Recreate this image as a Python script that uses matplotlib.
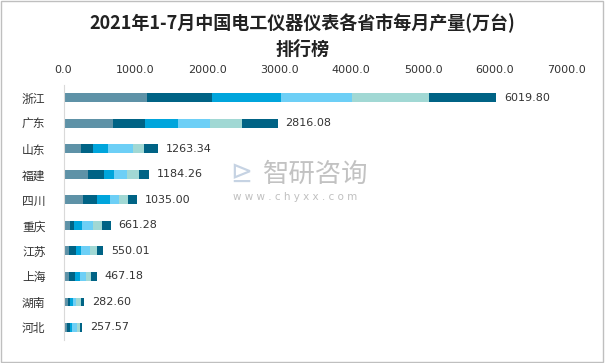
import matplotlib.pyplot as plt
from matplotlib.patches import Rectangle

plt.rcParams['font.family'] = ['Noto Sans CJK SC', 'DejaVu Sans']

# provinces, top to bottom
provinces = ['浙江', '广东', '山东', '福建', '四川', '重庆', '江苏', '上海', '湖南', '河北']
totals = [6019.80, 2816.08, 1263.34, 1184.26, 1035.00, 661.28, 550.01, 467.18, 282.60, 257.57]

# monthly segments
seg1 = [1156, 684, 243, 336, 267, 90, 76, 76, 58, 50]
seg2 = [903, 449, 163, 227, 199, 56, 97, 83, 32, 42]
seg3 = [963, 459, 217, 135, 176, 107, 69, 69, 38, 32]
seg4 = [996, 445, 343, 185, 125, 157, 121, 83, 52, 68]
seg5 = [1070, 445, 149, 163, 125, 125, 97, 69, 62, 36]
seg6 = [931, 496, 195, 139, 125, 121, 92, 79, 40, 30]
segments = [seg1, seg2, seg3, seg4, seg5, seg6]
colors = ['#5e92a7', '#006385', '#00a5dc', '#6dcff6', '#a1d8d4', '#006385']

fig = plt.figure(figsize=(6.05, 3.63), dpi=100)
ax = fig.add_axes([0.105, 0.063, 0.832, 0.703])

y = list(range(len(provinces)))
left = [0] * len(provinces)
for k, seg in enumerate(segments):
    ax.barh(y, seg, left=left, height=0.34, color=colors[k], linewidth=0)
    left = [a + b for a, b in zip(left, seg)]

# value labels at the bar ends
for i, (end, t) in enumerate(zip(left, totals)):
    ax.text(end + 110, i, f'{t:.2f}', va='center', ha='left', fontsize=8, color='#333333',
            family=['DejaVu Sans'])

ax.set_xlim(0, 7000)
ax.set_ylim(9.5, -0.5)
ax.xaxis.tick_top()
ax.set_xticks(range(0, 7001, 1000))
ax.set_xticklabels([f'{v:.1f}' for v in range(0, 7001, 1000)], family=['DejaVu Sans'])
ax.set_yticks(y)
ax.set_yticklabels(provinces)
ax.tick_params(axis='both', length=0, labelsize=8, colors='#333333')
ax.tick_params(axis='y', pad=13, labelsize=8.5)
ax.tick_params(axis='x', pad=7)
for s in ['top', 'right', 'bottom']:
    ax.spines[s].set_visible(False)
ax.spines['left'].set_color('#d9d9d9')

fig.text(0.5, 0.935, '2021年1-7月中国电工仪器仪表各省市每月产量(万台)', ha='center', va='center',
         fontsize=13, fontweight='bold', color='#222222')
fig.text(0.5, 0.863, '排行榜', ha='center', va='center',
         fontsize=13, fontweight='bold', color='#222222')

# watermark
fig.text(0.435, 0.52, '智研咨询', ha='left', va='center', fontsize=19, color='#a8a8a8', alpha=0.7)
fig.text(0.38, 0.52, '⊵', ha='left', va='center', fontsize=19, color='#b8c8dc', alpha=0.8,
         family=['DejaVu Sans'])
fig.text(0.385, 0.458, 'w w w . c h y x x . c o m', ha='left', va='center', fontsize=7.5,
         color='#b0b0b0', alpha=0.8, family=['DejaVu Sans'])

fig.patches.append(Rectangle((0.002, 0.003), 0.995, 0.994, transform=fig.transFigure,
                             fill=False, edgecolor='#bfbfbf', linewidth=1))

plt.savefig('out.png', dpi=100)
plt.close()
